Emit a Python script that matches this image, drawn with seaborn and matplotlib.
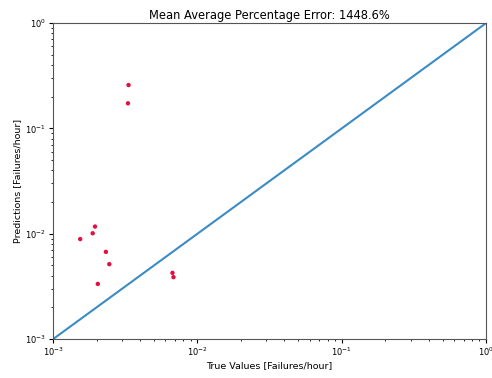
import numpy as np
import pandas as pd
import matplotlib
matplotlib.use("Agg")
import matplotlib.pyplot as plt
import seaborn as sns

# True vs predicted failure rates
true_values = [3.33e-3, 3.30e-3, 1.95e-3, 1.88e-3, 1.54e-3, 2.32e-3, 2.45e-3, 2.04e-3, 6.71e-3, 6.82e-3]
predictions = [0.258, 0.173, 0.0117, 0.0101, 0.0089, 0.00673, 0.00514, 0.00334, 0.00425, 0.00387]
diag_points = [1e-3, 1.0]
mape = 1448.6

df = pd.DataFrame({'true': true_values, 'pred': predictions})
diag = pd.DataFrame({'x': diag_points, 'y': diag_points})

fig = plt.figure(figsize=(4.92, 3.78), dpi=100)
ax = fig.add_axes([0.108, 0.103, 0.880, 0.836])

sns.lineplot(data=diag, x='x', y='y', ax=ax, color='#3b8bc4', linewidth=1.5)
sns.scatterplot(data=df, x='true', y='pred', ax=ax, color='#e01040', s=10,
                edgecolor='none', zorder=3)

ax.set_xscale('log')
ax.set_yscale('log')
ax.set_xlim(1e-3, 1)
ax.set_ylim(1e-3, 1)
ax.set_title('Mean Average Percentage Error: %.1f%%' % mape, fontsize=8.3, pad=3)
ax.set_xlabel('True Values [Failures/hour]', fontsize=6.8, labelpad=2)
ax.set_ylabel('Predictions [Failures/hour]', fontsize=6.8, labelpad=2)
ax.tick_params(labelsize=6, length=3, pad=2)
ax.tick_params(which='minor', length=1.5)
for s in ax.spines.values():
    s.set_color('#555555')

fig.savefig('out.png', dpi=100)
